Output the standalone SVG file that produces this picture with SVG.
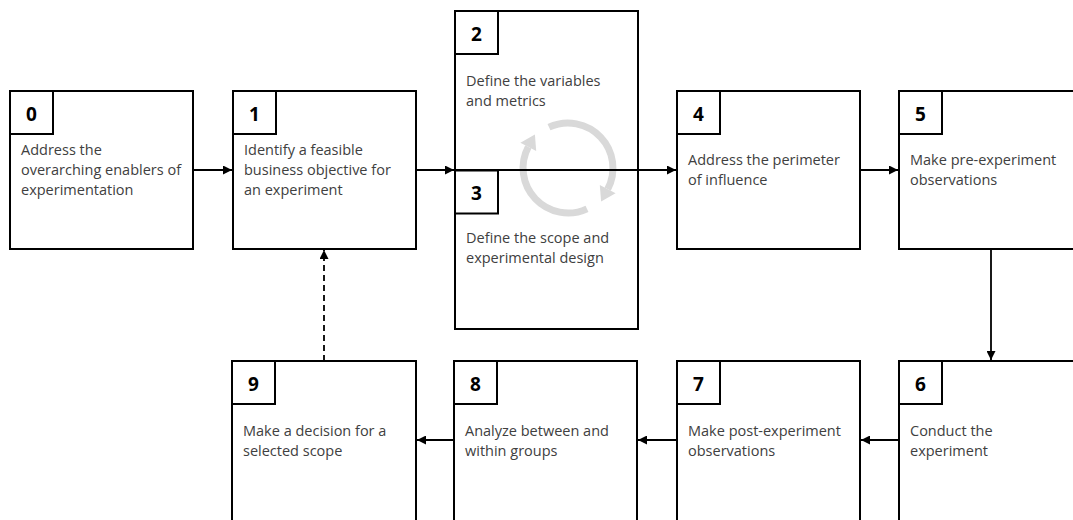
<svg xmlns="http://www.w3.org/2000/svg" width="1073" height="520" viewBox="0 0 1073 520">
<style>
.box{fill:#fff;stroke:#000;stroke-width:2}
.sq{fill:#fff;stroke:#000;stroke-width:2}
.num{font-family:"Open Sans","Liberation Sans",sans-serif;font-weight:bold;font-size:19px;fill:#000;text-anchor:middle}
.txt{font-family:"Open Sans","Liberation Sans",sans-serif;font-size:14.5px;fill:#404040}
.con{stroke:#000;stroke-width:1.8;fill:none}
.dash{stroke-dasharray:6 4}
.ring{stroke:#d9d9d9;stroke-width:7;fill:none}
.ringhead{fill:#d9d9d9}
</style>
<defs>
<marker id="ah" viewBox="0 0 10 10" refX="10" refY="5" markerWidth="5" markerHeight="5" markerUnits="strokeWidth" orient="auto">
<path d="M0,0 L10,5 L0,10 z" fill="#000"/>
</marker>
</defs>
<rect width="1073" height="520" fill="#fff"/>
<g id="node0">
<rect class="box" x="10" y="91" width="183" height="158"/>
<rect class="sq" x="10" y="91" width="43" height="43"/>
<text class="num" x="31.5" y="120.5">0</text>
<text class="txt" x="21" y="155">Address the</text>
<text class="txt" x="21" y="175">overarching enablers of</text>
<text class="txt" x="21" y="195">experimentation</text>
</g>
<g id="node1">
<rect class="box" x="233" y="91" width="183" height="158"/>
<rect class="sq" x="233" y="91" width="43" height="43"/>
<text class="num" x="254.5" y="120.5">1</text>
<text class="txt" x="244" y="155">Identify a feasible</text>
<text class="txt" x="244" y="175">business objective for</text>
<text class="txt" x="244" y="195">an experiment</text>
</g>
<g id="node2">
<rect class="box" x="455" y="11" width="183" height="318"/>
<rect class="sq" x="455" y="11" width="43" height="43"/>
<text class="num" x="476.5" y="40.5">2</text>
<text class="txt" x="466" y="86">Define the variables</text>
<text class="txt" x="466" y="106">and metrics</text>
<path class="ring" d="M549,127.2 A45,45 0 0 1 607.7,189.1"/>
<polygon class="ringhead" points="615.6,193.3 599.8,184.9 601.1,201.5"/>
<path class="ring" d="M587,208.8 A45,45 0 0 1 528.3,146.9"/>
<polygon class="ringhead" points="520.4,142.7 536.2,151.1 534.9,134.5"/>
</g>
<g id="node3">
<rect class="sq" x="455" y="170.5" width="43" height="43"/>
<text class="num" x="476.5" y="200">3</text>
<text class="txt" x="466" y="243">Define the scope and</text>
<text class="txt" x="466" y="263">experimental design</text>
</g>
<g id="node4">
<rect class="box" x="677" y="91" width="183" height="158"/>
<rect class="sq" x="677" y="91" width="43" height="43"/>
<text class="num" x="698.5" y="120.5">4</text>
<text class="txt" x="688" y="165">Address the perimeter</text>
<text class="txt" x="688" y="185">of influence</text>
</g>
<g id="node5">
<rect class="box" x="899" y="91" width="183" height="158"/>
<rect class="sq" x="899" y="91" width="43" height="43"/>
<text class="num" x="920.5" y="120.5">5</text>
<text class="txt" x="910" y="165">Make pre-experiment</text>
<text class="txt" x="910" y="185">observations</text>
</g>
<g id="node6">
<rect class="box" x="899" y="361" width="183" height="170"/>
<rect class="sq" x="899" y="361" width="43" height="43"/>
<text class="num" x="920.5" y="390.5">6</text>
<text class="txt" x="910" y="436">Conduct the</text>
<text class="txt" x="910" y="456">experiment</text>
</g>
<g id="node7">
<rect class="box" x="677" y="361" width="183" height="170"/>
<rect class="sq" x="677" y="361" width="43" height="43"/>
<text class="num" x="698.5" y="390.5">7</text>
<text class="txt" x="688" y="436">Make post-experiment</text>
<text class="txt" x="688" y="456">observations</text>
</g>
<g id="node8">
<rect class="box" x="454" y="361" width="183" height="170"/>
<rect class="sq" x="454" y="361" width="43" height="43"/>
<text class="num" x="475.5" y="390.5">8</text>
<text class="txt" x="465" y="436">Analyze between and</text>
<text class="txt" x="465" y="456">within groups</text>
</g>
<g id="node9">
<rect class="box" x="232" y="361" width="184" height="170"/>
<rect class="sq" x="232" y="361" width="43" height="43"/>
<text class="num" x="253.5" y="390.5">9</text>
<text class="txt" x="243" y="436">Make a decision for a</text>
<text class="txt" x="243" y="456">selected scope</text>
</g>
<g id="connectors">
<line class="con" x1="193" y1="170" x2="232" y2="170" marker-end="url(#ah)"/>
<line class="con" x1="416" y1="170" x2="454" y2="170" marker-end="url(#ah)"/>
<line class="con" x1="454" y1="170" x2="676" y2="170" marker-end="url(#ah)"/>
<line class="con" x1="860" y1="170" x2="898" y2="170" marker-end="url(#ah)"/>
<line class="con" x1="991" y1="249" x2="991" y2="360" marker-end="url(#ah)"/>
<line class="con" x1="899" y1="440" x2="861" y2="440" marker-end="url(#ah)"/>
<line class="con" x1="677" y1="440" x2="638" y2="440" marker-end="url(#ah)"/>
<line class="con" x1="454" y1="440" x2="417" y2="440" marker-end="url(#ah)"/>
<line class="con dash" x1="324" y1="361" x2="324" y2="250" marker-end="url(#ah)"/>
</g>
</svg>
